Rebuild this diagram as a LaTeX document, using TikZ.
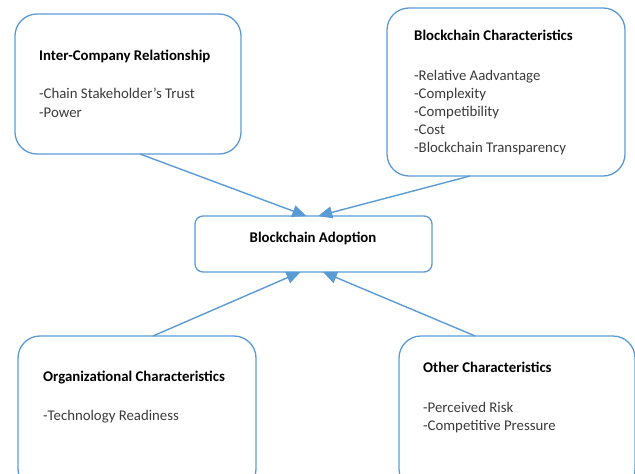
\documentclass[tikz,border=0pt]{standalone}
\usepackage{fontspec}
\setmainfont{Carlito}
\usetikzlibrary{arrows.meta,calc}
\definecolor{boxblue}{HTML}{5B9BD5}
\definecolor{itemgray}{HTML}{3A3A3A}
\begin{document}
\begin{tikzpicture}[x=1pt,y=-1pt,
  box/.style={draw=boxblue,line width=1.3pt,rounded corners=22pt,inner sep=0pt,outer sep=0pt,anchor=north west},
  smallbox/.style={box,rounded corners=8pt},
  title/.style={anchor=base west,inner sep=0pt,font=\fontsize{14.8}{18}\selectfont\bfseries,text=black},
  item/.style={anchor=base west,inner sep=0pt,font=\fontsize{14.8}{18}\selectfont,text=itemgray},
  link/.style={draw=boxblue,line width=1.4pt,-{Triangle[length=14pt,width=12pt]}}]
\useasboundingbox (0,0) rectangle (635,474);
\clip (0,0) rectangle (635,474);
% boxes
\node[box,minimum width=226pt,minimum height=140pt] (tl) at (15,14) {};
\node[box,minimum width=238pt,minimum height=168pt] (tr) at (387,8) {};
\node[smallbox,minimum width=237pt,minimum height=56pt] (c) at (195,216) {};
\node[box,minimum width=238pt,minimum height=155pt] (bl) at (18,336) {};
\node[box,minimum width=236pt,minimum height=155pt] (br) at (399,336) {};
% texts
\node[title] (tlt) at (39,60) {Inter-Company Relationship};
\node[item] (tli1) at (39,98) {-Chain Stakeholder’s Trust};
\node[item] (tli2) at (39,117) {-Power};
\node[title] (trt) at (414,40) {Blockchain Characteristics};
\node[item] (tri1) at (414,80) {-Relative Aadvantage};
\node[item] (tri2) at (414,98) {-Complexity};
\node[item] (tri3) at (414,116) {-Competibility};
\node[item] (tri4) at (414,134) {-Cost};
\node[item] (tri5) at (414,152) {-Blockchain Transparency};
\node[title,anchor=base] (ct) at (313,242) {Blockchain Adoption};
\node[title] (blt) at (43,381) {Organizational Characteristics};
\node[item] (bli1) at (43,420) {-Technology Readiness};
\node[title] (brt) at (423,372) {Other Characteristics};
\node[item] (bri1) at (423,412) {-Perceived Risk};
\node[item] (bri2) at (423,430) {-Competitive Pressure};
% connectors
\draw[link] ($(tl.south west)!0.553!(tl.south east)$) -- ($(c.north west)!0.47!(c.north east)$);
\draw[link] ($(tr.south west)!0.349!(tr.south east)$) -- ($(c.north west)!0.52!(c.north east)$);
\draw[link] ($(bl.north west)!0.567!(bl.north east)$) -- ($(c.south west)!0.445!(c.south east)$);
\draw[link] ($(br.north west)!0.323!(br.north east)$) -- ($(c.south west)!0.54!(c.south east)$);
\end{tikzpicture}
\end{document}
